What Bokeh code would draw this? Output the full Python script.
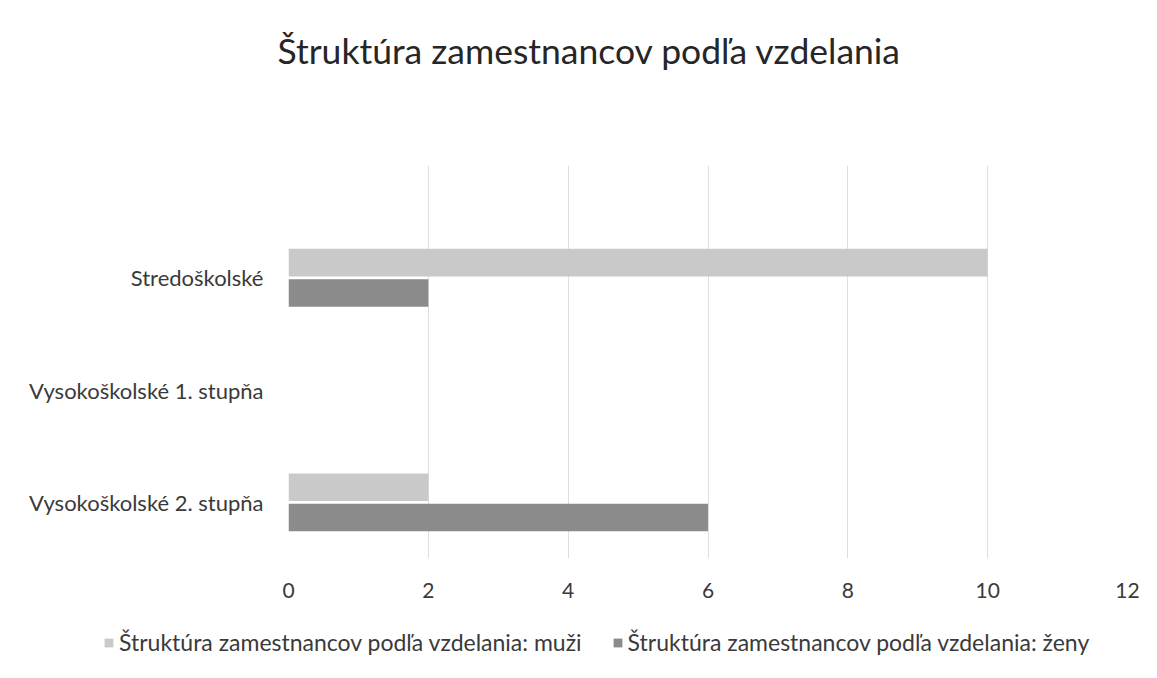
from bokeh.plotting import figure
from bokeh.layouts import column, row
from bokeh.models import (ColumnDataSource, Range1d, FixedTicker,
                          Legend, LegendItem, Label)
from bokeh.transform import dodge
from bokeh.embed import file_html
from bokeh.resources import INLINE

categories = ["Stredoškolské", "Vysokoškolské 1. stupňa", "Vysokoškolské 2. stupňa"]
muzi = [10, 0, 2]
zeny = [2, 0, 6]
series_names = ["Štruktúra zamestnancov podľa vzdelania: muži",
                "Štruktúra zamestnancov podľa vzdelania: ženy"]
title_text = "Štruktúra zamestnancov podľa vzdelania"
x_ticks = [0, 2, 4, 6, 8, 10, 12]

FONT = "Lato"
TEXT = "#3a3a3a"
C_MUZI = "#c9c9c9"
C_ZENY = "#8b8b8b"
W = 1149
TITLE_H = 100


def bare(height):
    f = figure(width=W, height=height, output_backend="svg", toolbar_location=None,
               x_range=Range1d(0, W), y_range=Range1d(0, height),
               x_axis_type=None, y_axis_type=None,
               min_border=0, min_border_left=0, min_border_right=0,
               min_border_top=0, min_border_bottom=0)
    f.grid.visible = False
    f.outline_line_color = None
    return f


# title row
tf = bare(TITLE_H)
tf.add_layout(Label(x=277, y=TITLE_H / 2, text=title_text, text_font=FONT,
                    text_font_size="35.5px", text_color="#262626",
                    text_baseline="middle", text_align="left"))

# main chart
n = len(categories)
ypos = [n - 1 - i for i in range(n)]
src = ColumnDataSource(dict(y=ypos, cat=categories, muzi=muzi, zeny=zeny))

p = figure(width=W, height=518, output_backend="svg", toolbar_location=None,
           x_range=Range1d(0, 12), y_range=Range1d(-0.5, n),
           min_border_left=288, min_border_right=W - 1127, min_border_top=65,
           min_border_bottom=60)
p.outline_line_color = None

r1 = p.hbar(y=dodge("y", 0.135), right="muzi", left=0, height=0.245, source=src,
            fill_color=C_MUZI, line_color=None)
r2 = p.hbar(y=dodge("y", -0.135), right="zeny", left=0, height=0.245, source=src,
            fill_color=C_ZENY, line_color=None)

p.xaxis.ticker = FixedTicker(ticks=x_ticks)
p.xaxis.axis_line_color = None
p.xaxis.major_tick_line_color = None
p.xaxis.minor_tick_line_color = None
p.xaxis.major_label_text_font = FONT
p.xaxis.major_label_text_font_size = "21px"
p.xaxis.major_label_text_color = TEXT
p.xaxis.major_label_standoff = 18

p.yaxis.ticker = FixedTicker(ticks=ypos)
p.yaxis.major_label_overrides = {y: c for y, c in zip(ypos, categories)}
p.yaxis.axis_line_color = None
p.yaxis.major_tick_line_color = None
p.yaxis.minor_tick_line_color = None
p.yaxis.major_label_text_font = FONT
p.yaxis.major_label_text_font_size = "22px"
p.yaxis.major_label_text_color = TEXT
p.yaxis.major_label_standoff = 19

p.xgrid.ticker = FixedTicker(ticks=x_ticks)
p.xgrid.grid_line_color = "#dedede"
p.ygrid.grid_line_color = None

# legend row
lg = bare(52)
proxy = ColumnDataSource(dict(y=[26], v=[0]))
d1 = lg.hbar(y="y", right="v", left="v", height=1, source=proxy,
             fill_color=C_MUZI, line_color=None)
d2 = lg.hbar(y="y", right="v", left="v", height=1, source=proxy,
             fill_color=C_ZENY, line_color=None)
legend = Legend(items=[LegendItem(label=series_names[0], renderers=[d1]),
                       LegendItem(label=series_names[1], renderers=[d2])],
                orientation="horizontal", location=(103, 14),
                border_line_color=None, background_fill_alpha=0,
                label_text_font=FONT, label_text_font_size="23px",
                label_text_color=TEXT, glyph_width=11, glyph_height=11,
                label_standoff=5, spacing=30, padding=0, margin=0)
lg.add_layout(legend, "center")

layout = column(row(tf), p, row(lg), spacing=0)
open("out.html", "w").write(file_html(layout, INLINE))
